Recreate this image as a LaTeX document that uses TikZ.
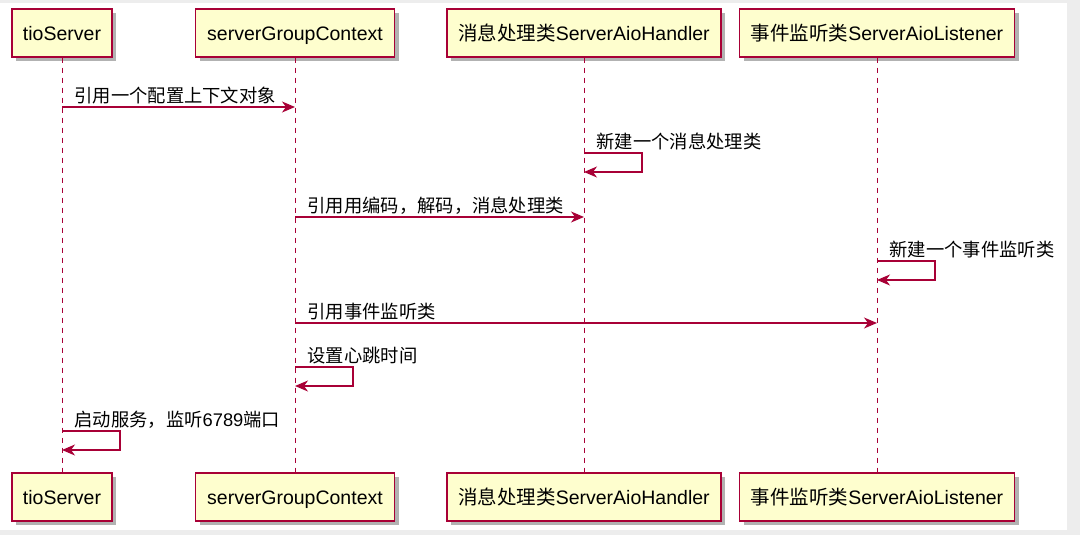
\documentclass[tikz,border=0pt]{standalone}
\usepackage{fontspec}
\setmainfont{Liberation Sans}
\newfontfamily\cjk{Noto Sans CJK SC}
\usepackage{tikz}
\usetikzlibrary{arrows.meta, shadows, positioning}
\definecolor{umlred}{HTML}{A80036}
\definecolor{umlfill}{HTML}{FEFECE}

\begin{document}
\begin{tikzpicture}[x=1pt, y=-1pt, >={Stealth[length=13pt, width=11pt, inset=4pt]}]
    \tikzstyle{actor} = [rectangle, draw=umlred, line width=1.3pt, fill=umlfill, minimum height=48pt, inner sep=0pt, text height=18pt, text depth=3pt, font=\fontsize{19.5}{23}\selectfont, drop shadow={shadow xshift=4pt, shadow yshift=-4pt, opacity=0.3, fill=black}]
    \tikzstyle{lifeline} = [draw=umlred, line width=1pt, dash pattern=on 5pt off 5pt]
    \tikzstyle{msg} = [draw=umlred, line width=1.2pt, ->]
    \tikzstyle{lbl} = [anchor=west, inner sep=0pt, xshift=12pt, yshift=11.5pt, font=\fontsize{18.3}{21}\selectfont]

    % page frame
    \fill[black!7] (0,0) rectangle (1080,535);
    \fill[white] (0,3) rectangle (1067,530);
    \useasboundingbox (0,0) rectangle (1080,535);

    % participants
    \node [actor, minimum width=100pt] (tio) at (62,33) {tioServer};
    \node [actor, minimum width=199pt] (sgc) at (295,33) {serverGroupContext};
    \node [actor, minimum width=274pt] (hdl) at (584,33) {{\cjk 消息处理类}ServerAioHandler};
    \node [actor, minimum width=275pt] (lsn) at (877,33) {{\cjk 事件监听类}ServerAioListener};

    \node [actor, minimum width=100pt] (tioB) at (62,497) {tioServer};
    \node [actor, minimum width=199pt] (sgcB) at (295,497) {serverGroupContext};
    \node [actor, minimum width=274pt] (hdlB) at (584,497) {{\cjk 消息处理类}ServerAioHandler};
    \node [actor, minimum width=275pt] (lsnB) at (877,497) {{\cjk 事件监听类}ServerAioListener};

    % lifelines
    \path [lifeline] (tio) -- (tioB);
    \path [lifeline] (sgc) -- (sgcB);
    \path [lifeline] (hdl) -- (hdlB);
    \path [lifeline] (lsn) -- (lsnB);

    % messages
    \path [msg] (tio |- 0,107) node[lbl] {\cjk 引用一个配置上下文对象} -- (sgc |- 0,107);
    \path [msg] (hdl |- 0,153) node[lbl] {\cjk 新建一个消息处理类} -- ++(58,0) -- ++(0,19) -- (hdl |- 0,172);
    \path [msg] (sgc |- 0,217) node[lbl] {\cjk 引用用编码，解码，消息处理类} -- (hdl |- 0,217);
    \path [msg] (lsn |- 0,261) node[lbl] {\cjk 新建一个事件监听类} -- ++(58,0) -- ++(0,19) -- (lsn |- 0,280);
    \path [msg] (sgc |- 0,323) node[lbl] {\cjk 引用事件监听类} -- (lsn |- 0,323);
    \path [msg] (sgc |- 0,367) node[lbl] {\cjk 设置心跳时间} -- ++(58,0) -- ++(0,19) -- (sgc |- 0,386);
    \path [msg] (tio |- 0,431) node[lbl] {{\cjk 启动服务，监听}6789{\cjk 端口}} -- ++(58,0) -- ++(0,19) -- (tio |- 0,450);
\end{tikzpicture}
\end{document}
